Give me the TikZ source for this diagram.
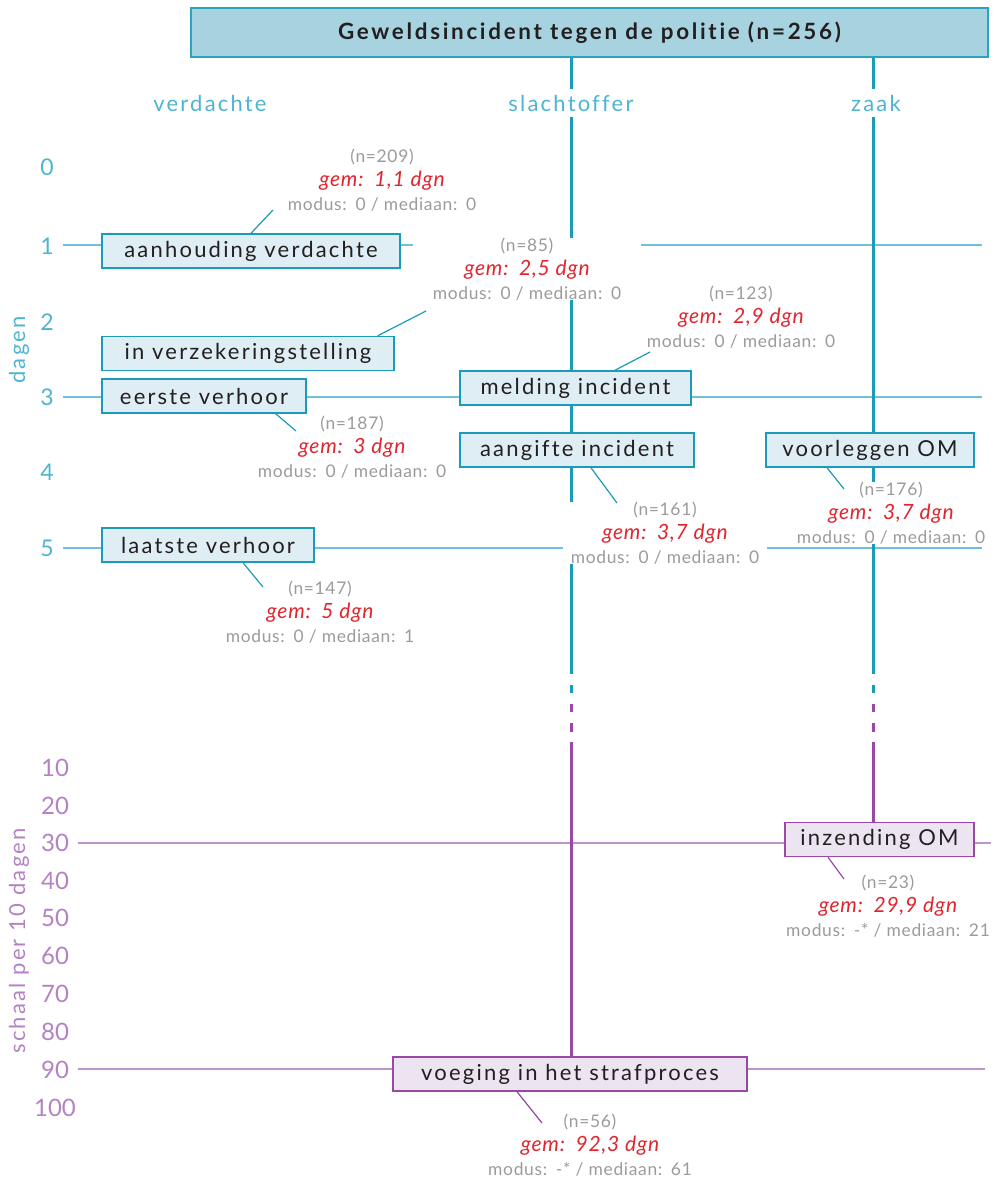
\documentclass[tikz,border=0pt]{standalone}
\usepackage{fontspec}
\setmainfont[Ligatures=NoCommon]{Lato}
\newfontfamily\boxfont[LetterSpace=10,Ligatures=NoCommon]{Lato}
\newfontfamily\titlefont[LetterSpace=12,Ligatures=NoCommon]{Lato}
\newfontfamily\headfont[LetterSpace=10,Ligatures=NoCommon]{Lato}
\newfontfamily\statfont[LetterSpace=4,Ligatures=NoCommon]{Lato}
\usetikzlibrary{backgrounds}

\definecolor{polblue}{HTML}{1B9BB8}
\definecolor{polbluefill}{HTML}{DFEEF4}
\definecolor{titlefill}{HTML}{A7D2DF}
\definecolor{titleline}{HTML}{2BA3BF}
\definecolor{axisblue}{HTML}{4DB5D1}
\definecolor{gridblue}{HTML}{6FC0D8}
\definecolor{polpurple}{HTML}{9A48A6}
\definecolor{purplefill}{HTML}{EDE4F1}
\definecolor{axispurple}{HTML}{B482C3}
\definecolor{gridpurple}{HTML}{BF93CC}
\definecolor{gemred}{HTML}{E1252F}
\definecolor{statgray}{HTML}{9B9B9B}
\definecolor{boxtext}{HTML}{231F20}

\newcommand\gemfont{\itshape\fontsize{10.5}{12}\selectfont\color{gemred}}
\newcommand\stats[4]{{\color{statgray}(n=#1)}\\{\gemfont gem:\enspace#2 dgn}\\{\color{statgray}modus:\enspace#3 / mediaan:\enspace#4}}

\begin{document}
\begin{tikzpicture}[x=0.5pt,y=-0.5pt]
            \useasboundingbox (0,0) rectangle (996,1178);
            \tikzset{
              vdbox/.style={draw=polblue, fill=polbluefill, line width=0.75pt, text=boxtext,
                font=\boxfont\fontsize{11}{13}\selectfont, minimum height=17pt, inner sep=0pt},
              ombox/.style={vdbox, draw=polpurple, fill=purplefill},
              statnode/.style={fill=white, align=center, font=\statfont\fontsize{8.7}{12}\selectfont, inner sep=0pt},
              colhead/.style={fill=white, text=axisblue, font=\headfont\fontsize{11}{12}\selectfont, inner sep=3pt},
              daynum/.style={text=axisblue, font=\fontsize{11.5}{13}\selectfont},
              tennum/.style={text=axispurple, font=\fontsize{12}{14}\selectfont},
              vblue/.style={draw=polblue, line width=1.5pt},
              vpurple/.style={draw=polpurple, line width=1.5pt},
              gblue/.style={draw=gridblue, line width=0.6pt},
              gpurple/.style={draw=gridpurple, line width=0.6pt},
              lblue/.style={draw=polblue, line width=0.6pt},
              lpurple/.style={draw=polpurple, line width=0.6pt}
            }

            \node[draw=titleline, fill=titlefill, line width=0.75pt, minimum width=398.5pt, minimum height=24.5pt,
              font=\titlefont\bfseries\fontsize{11.2}{12}\selectfont, text=boxtext] (title) at (589.5,32.5)
              {Geweldsincident tegen de politie (n=256)};

            \node[colhead] (h_vd) at (210,103) {verdachte};
            \node[colhead] (h_sl) at (571,103) {slachtoffer};
            \node[colhead] (h_zk) at (876,103) {zaak};

            \foreach \d/\y in {0/167,1/246,2/322,3/397,4/472,5/548}
              \node[daynum] (d_\d) at (47,\y) {\d};
            \foreach \t/\y in {10/768,20/806,30/843,40/881,50/918,60/956,70/994,80/1032,90/1070,100/1108}
              \node[tennum] (t_\t) at (55,\y) {\t};
            \node[rotate=90, text=axisblue, font=\headfont\fontsize{11}{12}\selectfont] (ax_d) at (19,350) {dagen};
            \node[rotate=90, text=axispurple, font=\headfont\fontsize{11}{12}\selectfont] (ax_t) at (19,941) {schaal per 10 dagen};

            \node[vdbox, minimum width=149pt] (vd_1) at (251,251) {aanhouding verdachte};
            \node[vdbox, minimum width=146pt] (vd_2) at (248,353.5) {in verzekeringstelling};
            \node[vdbox, minimum width=102pt] (vd_3) at (204,396) {eerste verhoor};
            \node[vdbox, minimum width=106pt] (vd_4) at (208,545) {laatste verhoor};
            \node[vdbox, minimum width=115.5pt] (sl_1) at (575.5,388) {melding incident};
            \node[vdbox, minimum width=117pt] (sl_2) at (577,450) {aangifte incident};
            \node[vdbox, minimum width=104pt] (zk_1) at (870,450) {voorleggen OM};
            \node[ombox, minimum width=94.5pt] (zk_2) at (879.5,839.5) {inzending OM};
            \node[ombox, minimum width=177pt] (sl_3) at (570,1074) {voeging in het strafproces};

            \node[statnode] (st_209) at (382,180) {\stats{209}{1,1}{0}{0}};
            \node[statnode, inner xsep=10pt] (st_85) at (527,269) {\stats{85}{2,5}{0}{0}};
            \node[statnode] (st_123) at (741,317) {\stats{123}{2,9}{0}{0}};
            \node[statnode] (st_187) at (352,447) {\stats{187}{3}{0}{0}};
            \node[statnode, inner xsep=4pt] (st_161) at (665,533) {\stats{161}{3,7}{0}{0}};
            \node[statnode] (st_176) at (891,513) {\stats{176}{3,7}{0}{0}};
            \node[statnode] (st_147) at (320,612) {\stats{147}{5}{0}{1}};
            \node[statnode] (st_23) at (888,906) {\stats{23}{29,9}{-*}{21}};
            \node[statnode] (st_56) at (590,1145) {\stats{56}{92,3}{-*}{61}};

            \coordinate (sl_brk) at (571,674);
            \coordinate (sl_pur) at (571,742);
            \coordinate (zk_brk) at (873,674);
            \coordinate (zk_pur) at (873,742);

            \begin{scope}[on background layer]
              \draw[gblue] (63,245) -- (982,245);
              \draw[gblue] (63,397) -- (982,397);
              \draw[gblue] (63,548) -- (982,548);
              \draw[gpurple] (78,843) -- (991,843);
              \draw[gpurple] (78,1069) -- (985,1069);

              \draw[vblue] (title.south -| sl_brk) -- (sl_brk);
              \draw[vblue] (title.south -| zk_brk) -- (zk_brk);
              \draw[vpurple] (sl_pur) -- (sl_pur |- sl_3.north);
              \draw[vpurple] (zk_pur) -- (zk_pur |- zk_2.north);
              \foreach \x in {571,873}{
                \draw[vblue] (\x,685) -- (\x,693);
                \draw[vpurple] (\x,704) -- (\x,712) (\x,723) -- (\x,732);
              }
            \end{scope}

            \coordinate (c_209) at (273,210);
            \coordinate (c_85) at (426,311);
            \coordinate (c_123) at (650,352);
            \coordinate (c_187) at (296,431);
            \coordinate (c_161) at (617,503);
            \coordinate (c_176) at (844,489);
            \coordinate (c_147) at (263,587);
            \coordinate (c_23) at (844,879);
            \coordinate (c_56) at (542,1123);

            \draw[lblue] (vd_1.north) -- (c_209);
            \draw[lblue] ([xshift=-8.5pt]vd_2.north east) -- (c_85);
            \draw[lblue] ([xshift=19.75pt]sl_1.north) -- (c_123);
            \draw[lblue] ([xshift=-15.5pt]vd_3.south east) -- (c_187);
            \draw[lblue] ([xshift=7pt]sl_2.south) -- (c_161);
            \draw[lblue] ([xshift=-21.5pt]zk_1.south) -- (c_176);
            \draw[lblue] ([xshift=17.5pt]vd_4.south) -- (c_147);
            \draw[lpurple] ([xshift=-25.75pt]zk_2.south) -- (c_23);
            \draw[lpurple] ([xshift=-26.5pt]sl_3.south) -- (c_56);
          \end{tikzpicture}
\end{document}
